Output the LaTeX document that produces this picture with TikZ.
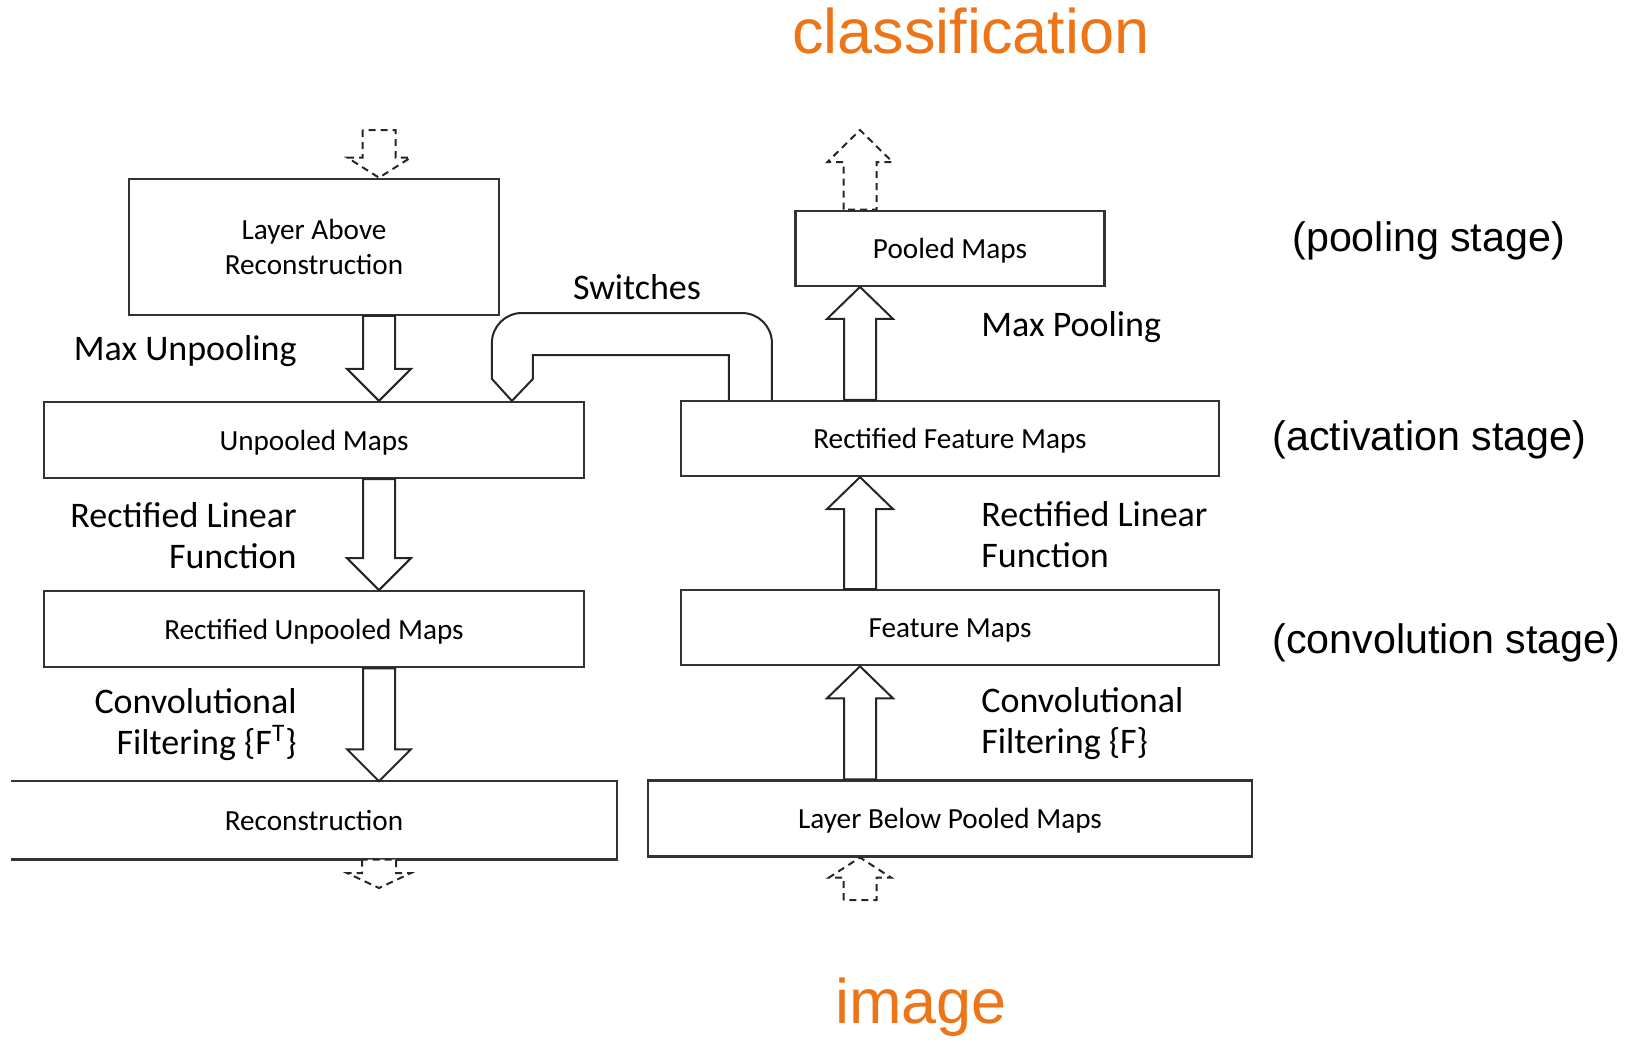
\documentclass[tikz,border=0pt]{standalone}
\usepackage{fontspec}
\setmainfont{Carlito}
\newfontfamily\arialfont{Liberation Sans}
\usetikzlibrary{calc,positioning}
\definecolor{myorange}{RGB}{237,117,23}

% block arrow: [style]{start}{tip}{half shaft}{half head}{head length}
\newcommand{\blockarrow}[6][]{%
  \draw[#1] let \p1=(#2), \p2=(#3), \n1={ifthenelse(\y2>\y1,1,-1)} in
    (\x2-#4,\y1) -- (\x2-#4,\y2-\n1*#6) -- (\x2-#5,\y2-\n1*#6) -- (\x2,\y2)
    -- (\x2+#5,\y2-\n1*#6) -- (\x2+#4,\y2-\n1*#6) -- (\x2+#4,\y1) -- cycle;}

\begin{document}
\begin{tikzpicture}[x=0.5pt, y=-0.5pt]
\tikzset{
    mybox/.style={rectangle, draw=black!80, line width=1.1pt, inner sep=0pt, align=center, text depth=0pt, font=\fontsize{14.6}{17.5}\selectfont},
    myarrow/.style={draw=black!85, line width=1pt, fill=white},
    mydashed/.style={myarrow, dash pattern=on 3.5pt off 2.5pt},
    mylabel/.style={inner sep=0pt, font=\fontsize{18}{20.5}\selectfont},
    mystage/.style={inner sep=0pt, anchor=base west, font=\arialfont\fontsize{20.6}{24}\selectfont},
    mytitle/.style={inner sep=0pt, anchor=base, text=myorange, font=\arialfont\fontsize{31.5}{36}\selectfont}
}
\useasboundingbox (0,0) rectangle (1637,1049);

% deconvnet side
\node[mybox, minimum width=270pt, minimum height=38pt] (unpooled) at (314,440) {Unpooled Maps};
\node[mybox, minimum width=185pt, minimum height=68pt, above=42.5pt of unpooled] (above) {Layer Above\\Reconstruction};
\node[mybox, minimum width=270pt, minimum height=38pt, below=55.5pt of unpooled] (rectunpooled) {Rectified Unpooled Maps};
\node[mybox, draw=none, minimum width=301.5pt, minimum height=38pt, below=56.5pt of rectunpooled] (recon) {Reconstruction};
\draw[black!80, line width=1.1pt] (recon.north west) -- (recon.north east) -- (recon.south east) -- (recon.south west);

% convnet side
\node[mybox, minimum width=269pt, minimum height=37.5pt] (rectfeat) at (950,438.5) {Rectified Feature Maps};
\node[mybox, minimum width=154.5pt, minimum height=37.5pt, above=56.5pt of rectfeat] (pooled) {Pooled Maps};
\node[mybox, minimum width=269pt, minimum height=37.5pt, below=56pt of rectfeat] (feat) {Feature Maps};
\node[mybox, minimum width=302pt, minimum height=38pt, below=56.5pt of feat] (below) {Layer Below Pooled Maps};

\coordinate (lcol) at (379,0);
\coordinate (rcol) at (860,0);

\blockarrow[myarrow]{above.south -| lcol}{unpooled.north -| lcol}{8pt}{16pt}{16pt}
\blockarrow[myarrow]{unpooled.south -| lcol}{rectunpooled.north -| lcol}{8pt}{16pt}{16pt}
\blockarrow[myarrow]{rectunpooled.south -| lcol}{recon.north -| lcol}{8pt}{16pt}{16pt}
\blockarrow[myarrow]{below.north -| rcol}{feat.south -| rcol}{8pt}{16.5pt}{16pt}
\blockarrow[myarrow]{feat.north -| rcol}{rectfeat.south -| rcol}{8pt}{16.5pt}{16pt}
\blockarrow[myarrow]{rectfeat.north -| rcol}{pooled.south -| rcol}{8pt}{16.5pt}{16pt}

% open ends
\coordinate (abovein) at (379,130);
\coordinate (reconout) at (379,888);
\coordinate (pooledout) at (860,130);
\coordinate (belowin) at (860,900);
\blockarrow[mydashed]{abovein}{above.north -| lcol}{8.25pt}{15.75pt}{10pt}
\blockarrow[mydashed]{recon.south -| lcol}{reconout}{8.5pt}{16pt}{7.5pt}
\blockarrow[mydashed]{pooled.north -| rcol}{pooledout}{8.25pt}{16.25pt}{16pt}
\blockarrow[mydashed]{belowin}{below.south -| rcol}{8.25pt}{15.5pt}{10pt}

% switches (inner side first, so only the outer bends get rounded)
\coordinate (swtop) at (637,313);
\coordinate (swin) at (637,355);
\draw[myarrow, fill=none] ($(rectfeat.north west)+(49,0)$) |- (swin) -| ($(unpooled.north west)+(490,-22)$)
    -- ($(unpooled.north west)+(469,0)$) -- ($(unpooled.north west)+(449,-22)$)
    [rounded corners=15pt] |- (swtop) -| ($(rectfeat.north west)+(92,0)$);
\node[mylabel, anchor=base] (switches) at (637,299) {Switches};

% labels (base anchor sits on the last line)
\node[mylabel, anchor=base east] (maxunpool) at (297,360) {Max Unpooling};
\node[mylabel, anchor=base east, align=right] (relu1) at (297,568) {Rectified Linear\\Function};
\node[mylabel, anchor=base east, align=right] (conv1) at (297,754) {Convolutional\\Filtering \{F\textsuperscript{T}\}};
\node[mylabel, anchor=base west] (maxpool) at (981,336) {Max Pooling};
\node[mylabel, anchor=base west, align=left] (relu2) at (981,567) {Rectified Linear\\Function};
\node[mylabel, anchor=base west, align=left] (conv2) at (981,753) {Convolutional\\Filtering \{F\}};

\node[mystage] (poolstage) at (1292,251) {(pooling stage)};
\node[mystage] (actstage) at (1272,450) {(activation stage)};
\node[mystage] (convstage) at (1272,653) {(convolution stage)};

\node[mytitle] (classification) at (971,53) {classification};
\node[mytitle] (image) at (921,1023) {image};
\end{tikzpicture}
\end{document}
